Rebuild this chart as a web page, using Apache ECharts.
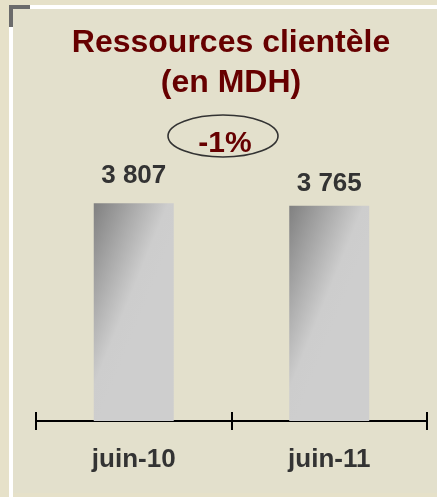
<!DOCTYPE html>
<html>
<head>
<meta charset="utf-8">
<script src="https://cdn.jsdelivr.net/npm/echarts@6/dist/echarts.min.js"></script>
<style>
  html, body { margin: 0; padding: 0; background: #e6e1c9; }
  #chart { width: 437px; height: 497px; }
</style>
</head>
<body>
<div id="chart"></div>
<script>
// Customer resources, in millions of dirhams
const periods = ['juin-10', 'juin-11'];
const resources = [3807, 3765];
const titleLines = ['Ressources clientèle', '(en MDH)'];

// Gap between each bar top and its value label
const labelGaps = [14, 9];

const FONT = '"Liberation Sans", Arial, sans-serif';

function formatThousands(v) {
  return String(v).replace(/\B(?=(\d{3})+(?!\d))/g, ' ');
}

// Year-over-year change shown in the ellipse
const change = Math.round((resources[1] - resources[0]) / resources[0] * 100);
const changeText = (change > 0 ? '+' : '') + change + '%';

const barGradient = new echarts.graphic.LinearGradient(0, 0, 1, 0.15, [
  { offset: 0, color: '#808080' },
  { offset: 0.8, color: '#cdcdcd' },
  { offset: 1, color: '#cecece' }
]);

const chart = echarts.init(document.getElementById('chart'), null, { renderer: 'canvas' });

chart.setOption({
  animation: false,
  backgroundColor: 'transparent',
  title: {
    text: titleLines.join('\n'),
    left: 226,
    top: 18,
    textAlign: 'center',
    textStyle: {
      color: '#660000',
      fontFamily: FONT,
      fontWeight: 'bold',
      fontSize: 32,
      lineHeight: 40
    }
  },
  grid: { left: 36, right: 10, top: 135, bottom: 76 },
  xAxis: [
    {
      type: 'category',
      data: periods,
      boundaryGap: true,
      axisLine: { lineStyle: { color: '#000', width: 2 } },
      axisTick: { show: true, length: 9, lineStyle: { color: '#000', width: 2 } },
      axisLabel: {
        color: '#333333',
        fontFamily: FONT,
        fontWeight: 'bold',
        fontSize: 26,
        margin: 26
      }
    },
    {
      type: 'category',
      data: periods,
      position: 'bottom',
      boundaryGap: true,
      axisLine: { show: false },
      axisTick: { show: true, inside: true, length: 9, lineStyle: { color: '#000', width: 2 } },
      axisLabel: { show: false }
    }
  ],
  yAxis: {
    type: 'value',
    min: 0,
    max: 5000,
    show: false,
    splitLine: { show: false }
  },
  series: [{
    type: 'bar',
    xAxisIndex: 0,
    barWidth: 80,
    z: 1,
    data: resources.map((v, i) => ({ value: v, label: { distance: labelGaps[i] } })),
    itemStyle: { color: barGradient },
    label: {
      show: true,
      position: 'top',
      color: '#333333',
      fontFamily: FONT,
      fontWeight: 'bold',
      fontSize: 26,
      formatter: p => formatThousands(p.value)
    }
  }],
  graphic: [
    // inner panel
    { type: 'rect', z: -10, shape: { x: 13, y: 9, width: 424, height: 484 }, style: { fill: '#e3e0cc' } },
    // white frame lines
    { type: 'rect', z: -9, shape: { x: 30, y: 5, width: 407, height: 4 }, style: { fill: '#ffffff' } },
    { type: 'rect', z: -9, shape: { x: 9, y: 27, width: 4, height: 470 }, style: { fill: '#ffffff' } },
    // grey corner bracket
    { type: 'rect', z: -9, shape: { x: 9, y: 5, width: 21, height: 4 }, style: { fill: '#6b6b6b' } },
    { type: 'rect', z: -9, shape: { x: 9, y: 5, width: 4, height: 22 }, style: { fill: '#6b6b6b' } },
    // change badge
    {
      type: 'ellipse', z: 10,
      shape: { cx: 223, cy: 136, rx: 55, ry: 21 },
      style: { fill: 'none', stroke: '#333333', lineWidth: 1.6 }
    },
    {
      type: 'text', z: 11, x: 225, y: 144,
      style: {
        text: changeText,
        font: 'bold 30px ' + FONT,
        fill: '#660000',
        align: 'center',
        verticalAlign: 'middle'
      }
    }
  ]
});
</script>
</body>
</html>
